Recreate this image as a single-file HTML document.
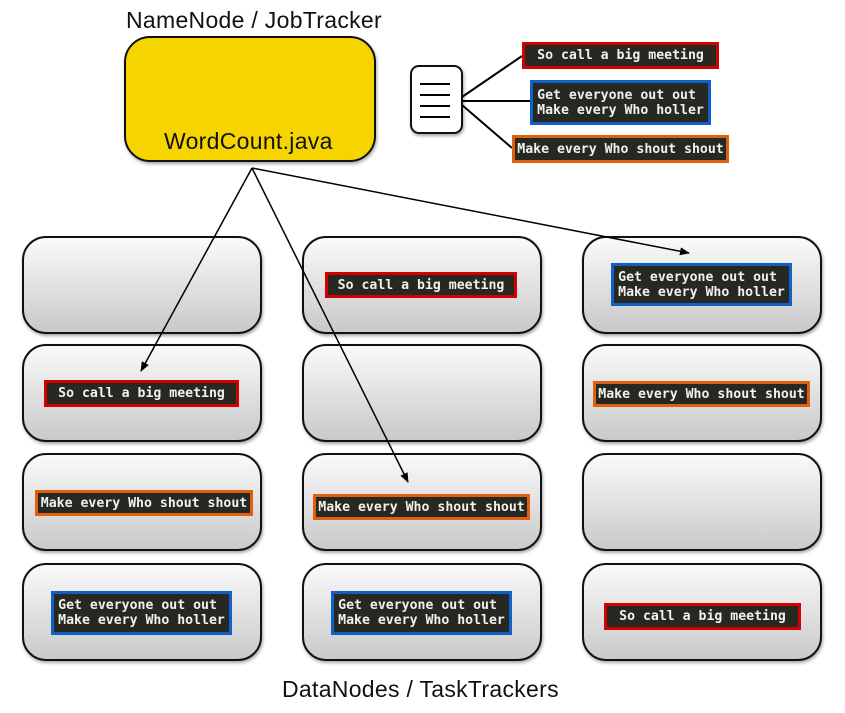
<!DOCTYPE html>
<html><head><meta charset="utf-8"><style>
body{margin:0;width:845px;height:713px;background:#fff;position:relative;overflow:hidden;font-family:"Liberation Sans",sans-serif}
.n{position:absolute;width:236px;height:94px;border:2px solid #111;border-radius:24px;background:linear-gradient(#fafafa,#c9c9c9);box-shadow:1px 2px 3px rgba(0,0,0,.35)}
.l{position:absolute;box-sizing:border-box;background:#272822;color:#f2f2ec;font-family:"DejaVu Sans Mono","Liberation Mono",monospace;font-size:13.2px;font-weight:bold;line-height:15px;white-space:pre;padding:0;display:flex;flex-direction:column;justify-content:center;align-items:center;border:3px solid}
.r{border-color:#d40000}.b{border-color:#1060c8}.o{border-color:#e06010}
.t{position:absolute;font-size:23px;line-height:26px;color:#111;white-space:nowrap;letter-spacing:0.3px}
</style></head><body>
<div class="t" style="left:126px;top:7px">NameNode / JobTracker</div>
<div style="position:absolute;left:124px;top:36px;width:248px;height:122px;border:2px solid #111;border-radius:26px;background:#f5d400;box-shadow:1px 2px 3px rgba(0,0,0,.35)"></div>
<div class="t" style="left:164px;top:128px">WordCount.java</div>
<div style="position:absolute;left:410px;top:65px;width:49px;height:65px;border:2px solid #111;border-radius:9px;background:#fff;box-shadow:1px 2px 3px rgba(0,0,0,.35)"></div>
<div class="n" style="left:22px;top:236px"></div>
<div class="n" style="left:302px;top:236px"></div>
<div class="n" style="left:582px;top:236px"></div>
<div class="n" style="left:22px;top:344px"></div>
<div class="n" style="left:302px;top:344px"></div>
<div class="n" style="left:582px;top:344px"></div>
<div class="n" style="left:22px;top:453px"></div>
<div class="n" style="left:302px;top:453px"></div>
<div class="n" style="left:582px;top:453px"></div>
<div class="n" style="left:22px;top:563px"></div>
<div class="n" style="left:302px;top:563px"></div>
<div class="n" style="left:582px;top:563px"></div>
<svg width="845" height="713" style="position:absolute;left:0;top:0">
<defs><marker id="a" markerWidth="10" markerHeight="8" refX="9" refY="4" orient="auto" markerUnits="userSpaceOnUse"><path d="M0,0 L10,4 L0,8 z" fill="#000"/></marker></defs>
<g stroke="#000" stroke-width="2">
<line x1="420" y1="84" x2="450" y2="84"/><line x1="420" y1="95" x2="450" y2="95"/><line x1="420" y1="106" x2="450" y2="106"/><line x1="420" y1="117" x2="450" y2="117"/>
<line x1="462" y1="97" x2="522" y2="56"/><line x1="462" y1="101" x2="530" y2="101"/><line x1="462" y1="105" x2="512" y2="148"/>
</g>
<g stroke="#000" stroke-width="1.5" marker-end="url(#a)">
<line x1="252" y1="168" x2="141" y2="371"/>
<line x1="252" y1="168" x2="408" y2="482"/>
<line x1="252" y1="168" x2="689" y2="253"/>
</g>
</svg>
<div class="l r" style="left:522px;top:42px;width:197px;height:27px">So call a big meeting</div>
<div class="l b" style="left:530px;top:80px;width:181px;height:45px">Get everyone out out
Make every Who holler</div>
<div class="l o" style="left:512px;top:135px;width:217px;height:28px">Make every Who shout shout</div>
<div class="l r" style="left:325px;top:272px;width:192px;height:26px">So call a big meeting</div>
<div class="l b" style="left:611px;top:263px;width:181px;height:43px">Get everyone out out
Make every Who holler</div>
<div class="l r" style="left:44px;top:380px;width:195px;height:27px">So call a big meeting</div>
<div class="l o" style="left:593px;top:381px;width:217px;height:26px">Make every Who shout shout</div>
<div class="l o" style="left:35px;top:490px;width:218px;height:26px">Make every Who shout shout</div>
<div class="l o" style="left:313px;top:494px;width:217px;height:26px">Make every Who shout shout</div>
<div class="l b" style="left:51px;top:591px;width:181px;height:44px">Get everyone out out
Make every Who holler</div>
<div class="l b" style="left:331px;top:591px;width:181px;height:44px">Get everyone out out
Make every Who holler</div>
<div class="l r" style="left:604px;top:603px;width:197px;height:27px">So call a big meeting</div>
<div class="t" style="left:282px;top:676px">DataNodes / TaskTrackers</div>
</body></html>
